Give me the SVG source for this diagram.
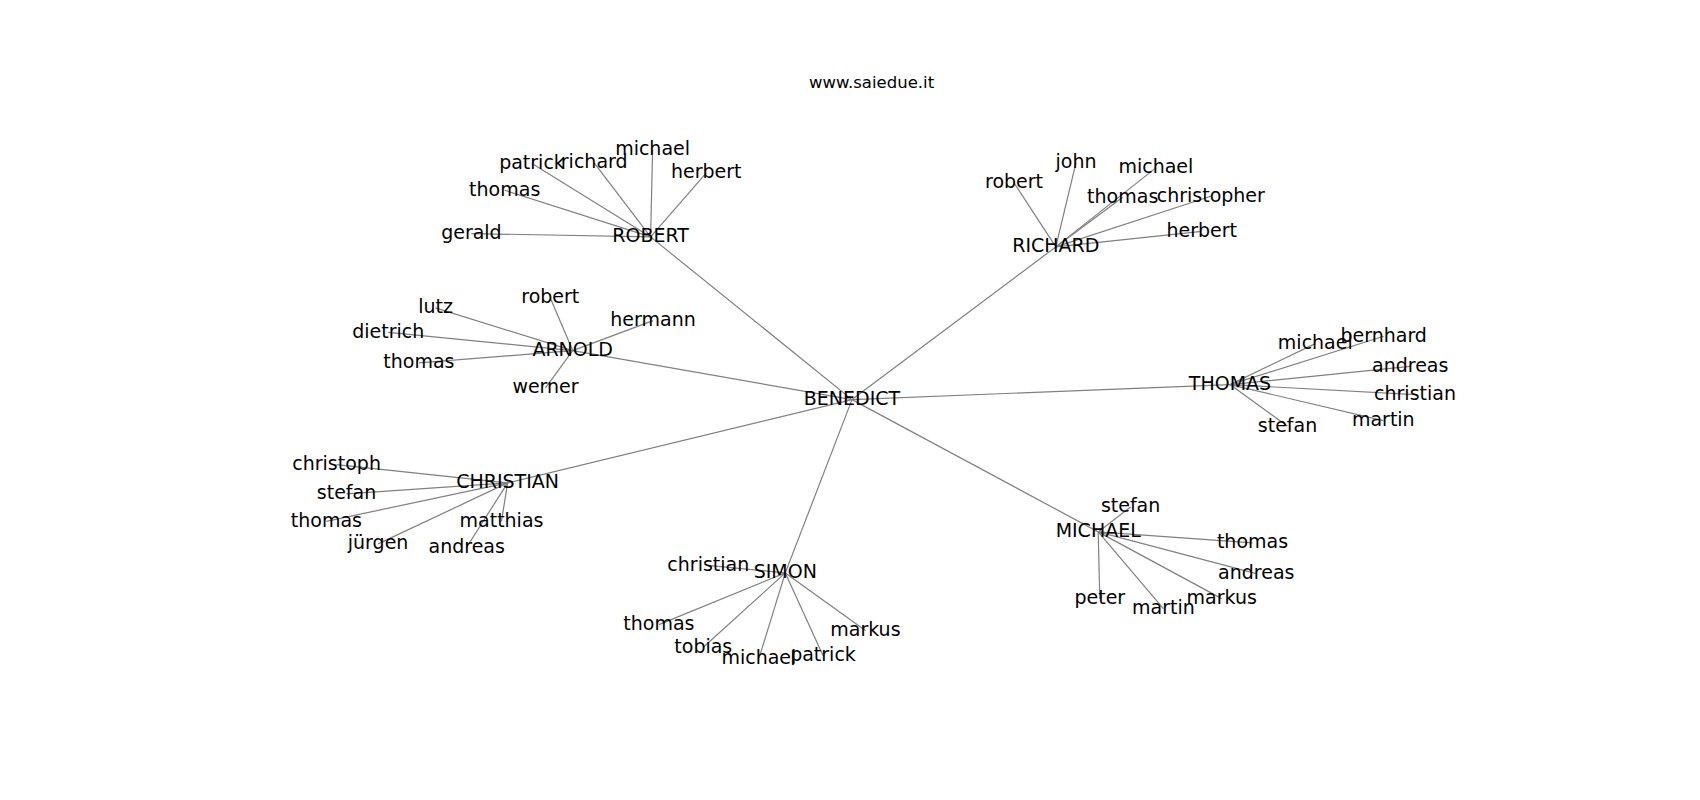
<svg xmlns="http://www.w3.org/2000/svg" width="1700" height="800" viewBox="0 0 1700 800">
<style>
.bg{fill:#ffffff}
.e line{stroke:#808080;stroke-width:1.2;fill:none}
.t{font-family:"DejaVu Sans","Liberation Sans",sans-serif;font-size:19px;fill:#000;text-anchor:middle}
.title{font-family:"DejaVu Sans","Liberation Sans",sans-serif;font-size:16.5px;fill:#000;text-anchor:middle}
</style>
<rect class="bg" x="0" y="0" width="1700" height="800"/>
<text class="title" x="871.6" y="87.7">www.saiedue.it</text>
<g class="e" id="connectors">
<line x1="852" y1="399.6" x2="650.6" y2="236.9"/>
<line x1="852" y1="399.6" x2="1055.8" y2="246.9"/>
<line x1="852" y1="399.6" x2="572.7" y2="350.6"/>
<line x1="852" y1="399.6" x2="1230" y2="384.6"/>
<line x1="852" y1="399.6" x2="507.6" y2="482.9"/>
<line x1="852" y1="399.6" x2="785.3" y2="572.9"/>
<line x1="852" y1="399.6" x2="1098.2" y2="531.9"/>
<line x1="650.6" y1="236.9" x2="652.6" y2="149.6"/>
<line x1="650.6" y1="236.9" x2="532" y2="163.6"/>
<line x1="650.6" y1="236.9" x2="594.2" y2="162.9"/>
<line x1="650.6" y1="236.9" x2="706.3" y2="172.9"/>
<line x1="650.6" y1="236.9" x2="504.7" y2="190.3"/>
<line x1="650.6" y1="236.9" x2="471.4" y2="233.6"/>
<line x1="1055.8" y1="246.9" x2="1076.1" y2="162.3"/>
<line x1="1055.8" y1="246.9" x2="1014" y2="182.9"/>
<line x1="1055.8" y1="246.9" x2="1155.9" y2="167.9"/>
<line x1="1055.8" y1="246.9" x2="1122.7" y2="197.3"/>
<line x1="1055.8" y1="246.9" x2="1210.8" y2="196.3"/>
<line x1="1055.8" y1="246.9" x2="1201.7" y2="231.3"/>
<line x1="572.7" y1="350.6" x2="550.3" y2="297.9"/>
<line x1="572.7" y1="350.6" x2="435.5" y2="307.9"/>
<line x1="572.7" y1="350.6" x2="388.2" y2="332.3"/>
<line x1="572.7" y1="350.6" x2="653" y2="320.6"/>
<line x1="572.7" y1="350.6" x2="418.9" y2="362.9"/>
<line x1="572.7" y1="350.6" x2="545.5" y2="387.9"/>
<line x1="1230" y1="384.6" x2="1315.3" y2="343.6"/>
<line x1="1230" y1="384.6" x2="1383.7" y2="336.3"/>
<line x1="1230" y1="384.6" x2="1410.2" y2="366.3"/>
<line x1="1230" y1="384.6" x2="1415" y2="394.6"/>
<line x1="1230" y1="384.6" x2="1383.3" y2="420.6"/>
<line x1="1230" y1="384.6" x2="1287.5" y2="426.3"/>
<line x1="507.6" y1="482.9" x2="336.6" y2="464.6"/>
<line x1="507.6" y1="482.9" x2="346.5" y2="493.9"/>
<line x1="507.6" y1="482.9" x2="326.4" y2="521.3"/>
<line x1="507.6" y1="482.9" x2="501.5" y2="521.3"/>
<line x1="507.6" y1="482.9" x2="378.1" y2="543.9"/>
<line x1="507.6" y1="482.9" x2="466.7" y2="547.3"/>
<line x1="785.3" y1="572.9" x2="708.3" y2="565.3"/>
<line x1="785.3" y1="572.9" x2="658.9" y2="624.6"/>
<line x1="785.3" y1="572.9" x2="703.3" y2="647.3"/>
<line x1="785.3" y1="572.9" x2="758.9" y2="658.6"/>
<line x1="785.3" y1="572.9" x2="823" y2="655.6"/>
<line x1="785.3" y1="572.9" x2="865.4" y2="630.6"/>
<line x1="1098.2" y1="531.9" x2="1130.6" y2="506.9"/>
<line x1="1098.2" y1="531.9" x2="1252.5" y2="542.9"/>
<line x1="1098.2" y1="531.9" x2="1256.3" y2="573.6"/>
<line x1="1098.2" y1="531.9" x2="1099.8" y2="598.9"/>
<line x1="1098.2" y1="531.9" x2="1163.4" y2="608.6"/>
<line x1="1098.2" y1="531.9" x2="1221.7" y2="598.6"/>
</g>
<g id="n-benedict"><text class="t" x="852" y="405">BENEDICT</text></g>
<g id="n-robert"><text class="t" x="650.6" y="242.3">ROBERT</text></g>
<g id="n-robert-michael"><text class="t" x="652.6" y="155">michael</text></g>
<g id="n-robert-patrick"><text class="t" x="532" y="169">patrick</text></g>
<g id="n-robert-richard"><text class="t" x="594.2" y="168.3">richard</text></g>
<g id="n-robert-herbert"><text class="t" x="706.3" y="178.3">herbert</text></g>
<g id="n-robert-thomas"><text class="t" x="504.7" y="195.7">thomas</text></g>
<g id="n-robert-gerald"><text class="t" x="471.4" y="239">gerald</text></g>
<g id="n-richard"><text class="t" x="1055.8" y="252.3">RICHARD</text></g>
<g id="n-richard-john"><text class="t" x="1076.1" y="167.7">john</text></g>
<g id="n-richard-robert"><text class="t" x="1014" y="188.3">robert</text></g>
<g id="n-richard-michael"><text class="t" x="1155.9" y="173.3">michael</text></g>
<g id="n-richard-thomas"><text class="t" x="1122.7" y="202.7">thomas</text></g>
<g id="n-richard-christopher"><text class="t" x="1210.8" y="201.7">christopher</text></g>
<g id="n-richard-herbert"><text class="t" x="1201.7" y="236.7">herbert</text></g>
<g id="n-arnold"><text class="t" x="572.7" y="356">ARNOLD</text></g>
<g id="n-arnold-robert"><text class="t" x="550.3" y="303.3">robert</text></g>
<g id="n-arnold-lutz"><text class="t" x="435.5" y="313.3">lutz</text></g>
<g id="n-arnold-dietrich"><text class="t" x="388.2" y="337.7">dietrich</text></g>
<g id="n-arnold-hermann"><text class="t" x="653" y="326">hermann</text></g>
<g id="n-arnold-thomas"><text class="t" x="418.9" y="368.3">thomas</text></g>
<g id="n-arnold-werner"><text class="t" x="545.5" y="393.3">werner</text></g>
<g id="n-thomas"><text class="t" x="1230" y="390">THOMAS</text></g>
<g id="n-thomas-michael"><text class="t" x="1315.3" y="349">michael</text></g>
<g id="n-thomas-bernhard"><text class="t" x="1383.7" y="341.7">bernhard</text></g>
<g id="n-thomas-andreas"><text class="t" x="1410.2" y="371.7">andreas</text></g>
<g id="n-thomas-christian"><text class="t" x="1415" y="400">christian</text></g>
<g id="n-thomas-martin"><text class="t" x="1383.3" y="426">martin</text></g>
<g id="n-thomas-stefan"><text class="t" x="1287.5" y="431.7">stefan</text></g>
<g id="n-christian"><text class="t" x="507.6" y="488.3">CHRISTIAN</text></g>
<g id="n-christian-christoph"><text class="t" x="336.6" y="470">christoph</text></g>
<g id="n-christian-stefan"><text class="t" x="346.5" y="499.3">stefan</text></g>
<g id="n-christian-thomas"><text class="t" x="326.4" y="526.7">thomas</text></g>
<g id="n-christian-matthias"><text class="t" x="501.5" y="526.7">matthias</text></g>
<g id="n-christian-jurgen"><text class="t" x="378.1" y="549.3">jürgen</text></g>
<g id="n-christian-andreas"><text class="t" x="466.7" y="552.7">andreas</text></g>
<g id="n-simon"><text class="t" x="785.3" y="578.3">SIMON</text></g>
<g id="n-simon-christian"><text class="t" x="708.3" y="570.7">christian</text></g>
<g id="n-simon-thomas"><text class="t" x="658.9" y="630">thomas</text></g>
<g id="n-simon-tobias"><text class="t" x="703.3" y="652.7">tobias</text></g>
<g id="n-simon-michael"><text class="t" x="758.9" y="664">michael</text></g>
<g id="n-simon-patrick"><text class="t" x="823" y="661">patrick</text></g>
<g id="n-simon-markus"><text class="t" x="865.4" y="636">markus</text></g>
<g id="n-michael"><text class="t" x="1098.2" y="537.3">MICHAEL</text></g>
<g id="n-michael-stefan"><text class="t" x="1130.6" y="512.3">stefan</text></g>
<g id="n-michael-thomas"><text class="t" x="1252.5" y="548.3">thomas</text></g>
<g id="n-michael-andreas"><text class="t" x="1256.3" y="579">andreas</text></g>
<g id="n-michael-peter"><text class="t" x="1099.8" y="604.3">peter</text></g>
<g id="n-michael-martin"><text class="t" x="1163.4" y="614">martin</text></g>
<g id="n-michael-markus"><text class="t" x="1221.7" y="604">markus</text></g>
</svg>
